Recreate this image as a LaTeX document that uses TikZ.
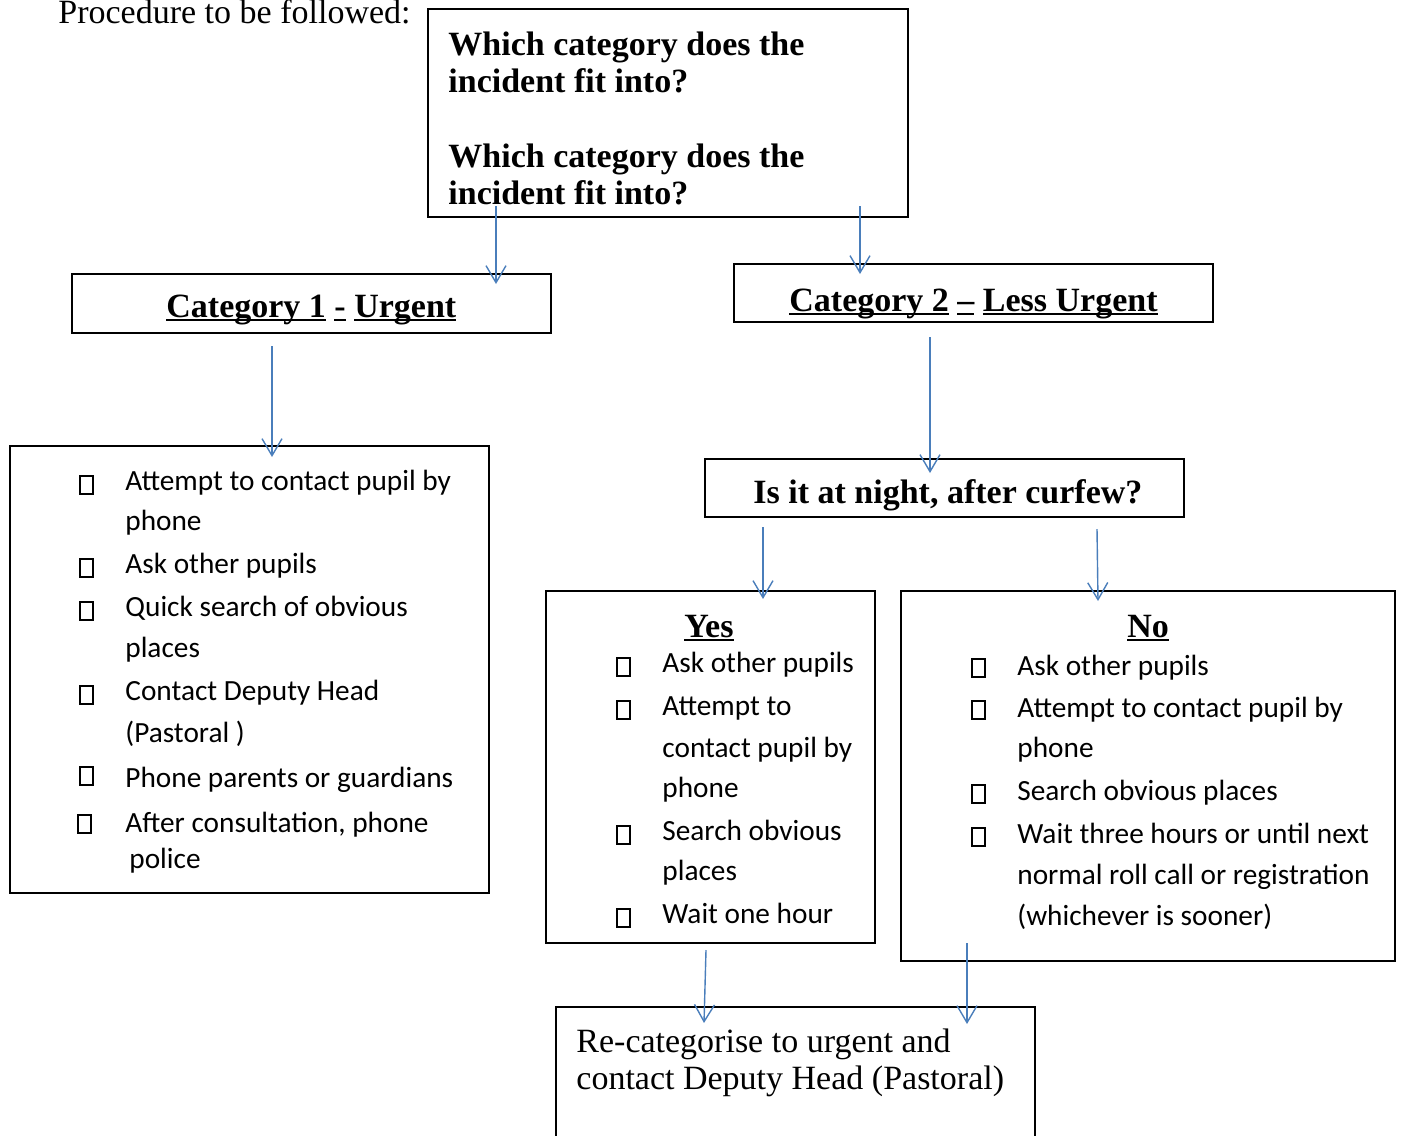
\documentclass[tikz,border=0pt]{standalone}
\usepackage{fontspec}
\setmainfont{Liberation Serif}
\newfontfamily\calfont{Carlito}
\usetikzlibrary{arrows.meta}
\newlength\pxl \setlength\pxl{0.5pt}
\definecolor{arrblue}{RGB}{74,126,187}
\newcommand\ulw[1]{\setbox0\hbox{#1}\rlap{\rule[-4\pxl]{\wd0}{2\pxl}}\box0\relax}
\begin{document}
\begin{tikzpicture}[x=0.5pt,y=-0.5pt,
  box/.style={draw, line width=1pt, rectangle, inner sep=0pt, anchor=north west},
  arr/.style={draw=arrblue, line width=0.7pt, -{Straight Barb[length=8.5pt,width=10pt]}},
  ser/.style={anchor=base west, inner sep=0pt, font=\fontsize{17pt}{18.5pt}\selectfont},
  serb/.style={ser, font=\fontsize{17pt}{18.5pt}\selectfont\bfseries},
  sans/.style={anchor=base west, inner sep=0pt, font=\calfont\fontsize{14.65pt}{20.5pt}\selectfont},
  bul/.style={draw, line width=1pt, rectangle, inner sep=0pt, minimum width=6.5pt, minimum height=9pt, anchor=south west}
]
\useasboundingbox (0,0) rectangle (1401,1135);

% boxes
\node[box, minimum width=480\pxl, minimum height=208\pxl] (q) at (427,8) {};
\node[box, minimum width=479\pxl, minimum height=59\pxl] (cat1) at (71,273) {};
\node[box, minimum width=479\pxl, minimum height=58\pxl] (cat2) at (733,263) {};
\node[box, minimum width=479\pxl, minimum height=447\pxl] (list1) at (9,445) {};
\node[box, minimum width=479\pxl, minimum height=58\pxl] (night) at (704,458) {};
\node[box, minimum width=329\pxl, minimum height=352\pxl] (yes) at (545,590) {};
\node[box, minimum width=494\pxl, minimum height=370\pxl] (no) at (900,590) {};
\node[box, minimum width=479\pxl, minimum height=160\pxl] (re) at (555,1006) {};

% texts
\node[ser] (title) at (58,24) {Procedure to be followed:};
\node[serb] (q1) at (448,55) {Which category does the};
\node[serb] (q2) at (448,92) {incident fit into?};
\node[serb] (q3) at (448,167) {Which category does the};
\node[serb] (q4) at (448,204) {incident fit into?};
\node[serb] (c1t) at (166,317) {\ulw{Category 1} \ulw{-} \ulw{Urgent}};
\node[serb] (c2t) at (789,311) {\ulw{Category 2} \ulw{--} \ulw{Less Urgent}};
\node[serb] (nt) at (753,503) {Is it at night, after curfew?};
\node[serb] (yt) at (684,637) {\ulw{Yes}};
\node[serb] (not) at (1127,637) {\ulw{No}};
\node[ser] (r1) at (576,1052) {Re-categorise to urgent and};
\node[ser] (r2) at (576,1089) {contact Deputy Head (Pastoral)};

% list 1
\node[bul] (b11) at (79,495) {};
\node[bul] (b12) at (79,578) {};
\node[bul] (b13) at (79,621) {};
\node[bul] (b14) at (79,705) {};
\node[bul] (b15) at (79,786) {};
\node[bul] (b16) at (77,834) {};
\node[sans] (l11) at (125,490) {Attempt to contact pupil by};
\node[sans] (l12) at (125,530) {phone};
\node[sans] (l13) at (125,573) {Ask other pupils};
\node[sans] (l14) at (125,616) {Quick search of obvious};
\node[sans] (l15) at (125,657) {places};
\node[sans] (l16) at (125,700) {Contact Deputy Head};
\node[sans] (l17) at (125,742) {(Pastoral )};
\node[sans] (l18) at (125,787) {Phone parents or guardians};
\node[sans] (l19) at (125,832) {After consultation, phone};
\node[sans] (l110) at (129,868) {police};

% yes list
\node[bul] (by1) at (616,677) {};
\node[bul] (by2) at (616,720) {};
\node[bul] (by3) at (616,845) {};
\node[bul] (by4) at (616,928) {};
\node[sans] (y1) at (662,672) {Ask other pupils};
\node[sans] (y2) at (662,715) {Attempt to};
\node[sans] (y3) at (662,757) {contact pupil by};
\node[sans] (y4) at (662,797) {phone};
\node[sans] (y5) at (662,840) {Search obvious};
\node[sans] (y6) at (662,880) {places};
\node[sans] (y7) at (662,923) {Wait one hour};

% no list
\node[bul] (bn1) at (971,678) {};
\node[bul] (bn2) at (971,720) {};
\node[bul] (bn3) at (971,804) {};
\node[bul] (bn4) at (971,847) {};
\node[sans] (n1) at (1017,675) {Ask other pupils};
\node[sans] (n2) at (1017,717) {Attempt to contact pupil by};
\node[sans] (n3) at (1017,757) {phone};
\node[sans] (n4) at (1017,800) {Search obvious places};
\node[sans] (n5) at (1017,843) {Wait three hours or until next};
\node[sans] (n6) at (1017,884) {normal roll call or registration};
\node[sans] (n7) at (1017,925) {(whichever is sooner)};

% connector end points
\coordinate (a1s) at (496,206); \coordinate (a1e) at (496,284);
\coordinate (a2s) at (860,206); \coordinate (a2e) at (860,274);
\coordinate (a3s) at (272,346); \coordinate (a3e) at (272,457);
\coordinate (a4s) at (930,337); \coordinate (a4e) at (930,473);
\coordinate (a5s) at (763,527); \coordinate (a5e) at (763,599);
\coordinate (a6s) at (1097,529); \coordinate (a6e) at (1098,601);
\coordinate (a7s) at (706,950); \coordinate (a7e) at (704,1023);
\coordinate (a8s) at (967,943); \coordinate (a8e) at (967,1024);

\draw[arr] (a1s) -- (a1e);
\draw[arr] (a2s) -- (a2e);
\draw[arr] (a3s) -- (a3e);
\draw[arr] (a4s) -- (a4e);
\draw[arr] (a5s) -- (a5e);
\draw[arr] (a6s) -- (a6e);
\draw[arr] (a7s) -- (a7e);
\draw[arr] (a8s) -- (a8e);
\end{tikzpicture}
\end{document}
